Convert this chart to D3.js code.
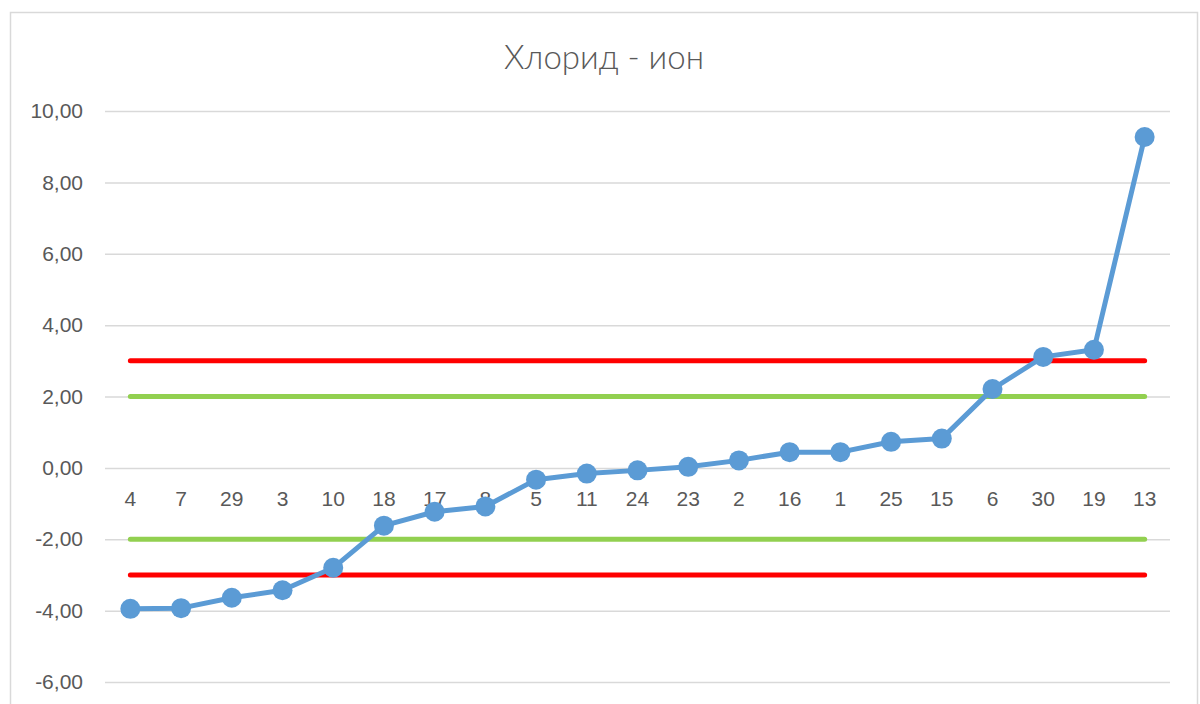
<!DOCTYPE html>
<html>
<head>
<meta charset="utf-8">
<script src="https://cdn.jsdelivr.net/npm/d3@7"></script>
<style>
  body { margin: 0; background: #fff; }
  svg { display: block; font-family: Lato, "Open Sans", sans-serif; }
</style>
</head>
<body>
<div id="chart"></div>
<script>
// chart data
var titleText = 'Хлорид - ион';
var categories = ['4', '7', '29', '3', '10', '18', '17', '8', '5', '11', '24', '23', '2', '16', '1', '25', '15', '6', '30', '19', '13'];
var values = [-3.95, -3.93, -3.64, -3.43, -2.80, -1.62, -1.23, -1.08, -0.33, -0.16, -0.07, 0.03, 0.21, 0.44, 0.44, 0.73, 0.82, 2.21, 3.11, 3.31, 9.27];
var yTicks = [-6, -4, -2, 0, 2, 4, 6, 8, 10];
var redLimits = [3, -3];
var greenLimits = [2, -2];

var width = 1200, height = 704;
var plot = { left: 105, right: 1170, top: 111, bottom: 682 };

var svg = d3.select('#chart').append('svg')
    .attr('width', width)
    .attr('height', height);

// outer chart frame
svg.append('rect')
    .attr('x', 10.5).attr('y', 12.5)
    .attr('width', 1187).attr('height', 720)
    .style('fill', '#fff')
    .style('stroke', '#d9d9d9')
    .style('stroke-width', 1.5);

var x = d3.scaleBand()
    .domain(categories)
    .range([plot.left, plot.right]);

var y = d3.scaleLinear()
    .domain([-6, 10])
    .range([plot.bottom, plot.top]);

// excel style: comma decimal, plain hyphen minus
var fmt = function (d) {
    return d3.format('.2f')(d).replace('.', ',').replace('\u2212', '-');
};

// gridlines + y labels
var yAxis = d3.axisLeft(y)
    .tickValues(yTicks)
    .tickSize(-(plot.right - plot.left))
    .tickPadding(22)
    .tickFormat(fmt);

var gy = svg.append('g')
    .attr('transform', 'translate(' + plot.left + ',0)')
    .call(yAxis);
gy.select('.domain').remove();
gy.selectAll('.tick line')
    .style('stroke', '#d9d9d9')
    .style('stroke-width', 1.5);
gy.selectAll('.tick text')
    .style('fill', '#595959')
    .style('font-size', '21px');

// category labels, sitting below the zero line
var xAxis = d3.axisBottom(x).tickSize(0).tickPadding(23);
var gx = svg.append('g')
    .attr('transform', 'translate(0,' + y(0) + ')')
    .call(xAxis);
gx.select('.domain').remove();
gx.selectAll('.tick text')
    .style('fill', '#595959')
    .style('font-size', '21px');

var xFirst = x(categories[0]) + x.bandwidth() / 2;
var xLast = x(categories[categories.length - 1]) + x.bandwidth() / 2;

// limit lines
function limitLines(vals, color) {
    svg.selectAll(null)
        .data(vals)
        .enter().append('line')
        .attr('x1', xFirst)
        .attr('x2', xLast)
        .attr('y1', function (d) { return y(d); })
        .attr('y2', function (d) { return y(d); })
        .style('stroke', color)
        .style('stroke-width', 5)
        .style('stroke-linecap', 'round');
}
limitLines(greenLimits, '#92d050');
limitLines(redLimits, '#ff0000');

// series line
var line = d3.line()
    .x(function (d, i) { return x(categories[i]) + x.bandwidth() / 2; })
    .y(function (d) { return y(d); });

svg.append('path')
    .datum(values)
    .attr('d', line)
    .style('fill', 'none')
    .style('stroke', '#5b9bd5')
    .style('stroke-width', 5)
    .style('stroke-linejoin', 'round');

svg.selectAll('.dot')
    .data(values)
    .enter().append('circle')
    .attr('class', 'dot')
    .attr('cx', function (d, i) { return x(categories[i]) + x.bandwidth() / 2; })
    .attr('cy', function (d) { return y(d); })
    .attr('r', 10)
    .style('fill', '#5b9bd5');

// title
svg.append('text')
    .attr('x', 604)
    .attr('y', 69)
    .attr('text-anchor', 'middle')
    .style('fill', '#595959')
    .style('font-size', '33px')
    .style('font-weight', 300)
    .text(titleText);
</script>
</body>
</html>
